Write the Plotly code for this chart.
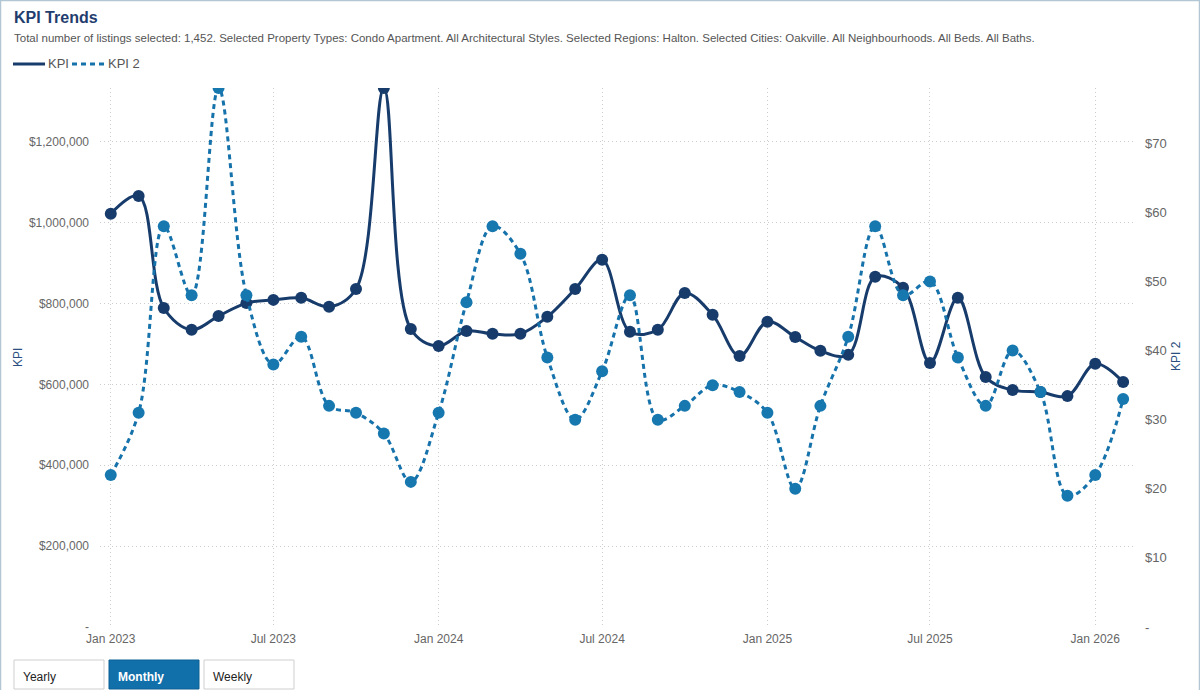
import plotly.graph_objects as go

months = [
    "2023-01-01", "2023-02-01", "2023-03-01", "2023-04-01", "2023-05-01", "2023-06-01",
    "2023-07-01", "2023-08-01", "2023-09-01", "2023-10-01", "2023-11-01", "2023-12-01",
    "2024-01-01", "2024-02-01", "2024-03-01", "2024-04-01", "2024-05-01", "2024-06-01",
    "2024-07-01", "2024-08-01", "2024-09-01", "2024-10-01", "2024-11-01", "2024-12-01",
    "2025-01-01", "2025-02-01", "2025-03-01", "2025-04-01", "2025-05-01", "2025-06-01",
    "2025-07-01", "2025-08-01", "2025-09-01", "2025-10-01", "2025-11-01", "2025-12-01",
    "2026-01-01", "2026-02-01",
]

kpi = [
    1022000, 1066000, 789000, 735000, 769000, 801000,
    809000, 814000, 792000, 836000, 1333000, 737000,
    695000, 732000, 725000, 725000, 767000, 836000,
    908000, 730000, 735000, 826000, 772000, 670000,
    755000, 717000, 683000, 673000, 866000, 839000,
    653000, 814000, 618000, 586000, 581000, 571000,
    651000, 606000,
]

kpi2 = [
    22, 31, 58, 48, 78, 48,
    38, 42, 32, 31, 28, 21,
    31, 47, 58, 54, 39, 30,
    37, 48, 30, 32, 35, 34,
    31, 20, 32, 42, 58, 48,
    50, 39, 32, 40, 34, 19,
    22, 33,
]

left_ticks = [0, 200000, 400000, 600000, 800000, 1000000, 1200000]
left_labels = ["-", "$200,000", "$400,000", "$600,000", "$800,000", "$1,000,000", "$1,200,000"]
right_ticks = [0, 10, 20, 30, 40, 50, 60, 70]
right_labels = ["-", "$10", "$20", "$30", "$40", "$50", "$60", "$70"]
x_ticks = ["2023-01-01", "2023-07-01", "2024-01-01", "2024-07-01", "2025-01-01", "2025-07-01", "2026-01-01"]
x_labels = ["Jan 2023", "Jul 2023", "Jan 2024", "Jul 2024", "Jan 2025", "Jul 2025", "Jan 2026"]

title = "KPI Trends"
subtitle = ("Total number of listings selected: 1,452. Selected Property Types: Condo Apartment. "
            "All Architectural Styles. Selected Regions: Halton. Selected Cities: Oakville. "
            "All Neighbourhoods. All Beds. All Baths.")
series_names = ["KPI", "KPI 2"]
buttons = ["Yearly", "Monthly", "Weekly"]

NAVY = "#173c6c"
BLUE = "#1672aa"
DASH = "5px,4px"
FONT = "Liberation Sans, Arial, sans-serif"

W, H = 1200, 690
ML, MR, MT, MB = 100, 67, 88, 63
PW = W - ML - MR
PH = H - MT - MB


def xp(px):
    return (px - ML) / PW


def yp(py):
    return (H - MB - py) / PH


fig = go.Figure()

fig.add_trace(go.Scatter(
    x=months, y=kpi, name=series_names[0], mode="lines+markers",
    line=dict(color=NAVY, width=3, shape="spline", smoothing=1.0),
    marker=dict(color=NAVY, size=12),
    showlegend=False, yaxis="y",
))
fig.add_trace(go.Scatter(
    x=months, y=kpi2, name=series_names[1], mode="lines+markers",
    line=dict(color=BLUE, width=3, shape="spline", smoothing=1.0, dash=DASH),
    marker=dict(color="#1778b0", size=12),
    showlegend=False, yaxis="y2",
))

grid = dict(showgrid=True, gridcolor="#cccccc", griddash="1px,3px", gridwidth=1)

fig.update_layout(
    template="none",
    width=W, height=H,
    margin=dict(l=ML, r=MR, t=MT, b=MB, pad=0, autoexpand=False),
    paper_bgcolor="white", plot_bgcolor="white",
    font=dict(family=FONT, color="#666666", size=12),
    showlegend=False,
    xaxis=dict(
        type="date", range=["2022-12-20", "2026-02-12"], automargin=False,
        tickvals=x_ticks, ticktext=x_labels, ticks="", ticklabelstandoff=3,
        zeroline=False, showline=False,
        tickfont=dict(size=12, color="#666666"),
        **grid,
    ),
    yaxis=dict(
        range=[0, 1333000], tickvals=left_ticks, ticktext=left_labels, automargin=False,
        ticks="", zeroline=False, showline=False, ticklabelstandoff=10,
        tickfont=dict(size=12, color="#666666"),
        **grid,
    ),
    yaxis2=dict(
        range=[0, 78], tickvals=right_ticks, ticktext=right_labels, automargin=False,
        overlaying="y", side="right", showgrid=False, zeroline=False, showline=False,
        ticks="", ticklabelstandoff=11,
        tickfont=dict(size=13, color="#666666"),
    ),
)

annotations = [
    dict(text="<b>" + title + "</b>", x=xp(12), y=yp(17), xref="paper", yref="paper",
         xanchor="left", yanchor="middle", showarrow=False,
         font=dict(size=16, color="#1f3d6e", family=FONT)),
    dict(text=subtitle, x=xp(12), y=yp(38), xref="paper", yref="paper",
         xanchor="left", yanchor="middle", showarrow=False,
         font=dict(size=11.5, color="#555555", family=FONT)),
    dict(text="KPI", x=xp(18), y=yp(357), xref="paper", yref="paper",
         textangle=-90, showarrow=False, xanchor="center", yanchor="middle",
         font=dict(size=12, color="#2a4f80", family=FONT)),
    dict(text="KPI 2", x=xp(1176), y=yp(356), xref="paper", yref="paper",
         textangle=-90, showarrow=False, xanchor="center", yanchor="middle",
         font=dict(size=12, color="#2a4f80", family=FONT)),
    # legend texts
    dict(text=series_names[0], x=xp(46), y=yp(64), xref="paper", yref="paper",
         xanchor="left", yanchor="middle", showarrow=False,
         font=dict(size=13, color="#555555", family=FONT)),
    dict(text=series_names[1], x=xp(106), y=yp(64), xref="paper", yref="paper",
         xanchor="left", yanchor="middle", showarrow=False,
         font=dict(size=13, color="#555555", family=FONT)),
]

shapes = [
    dict(type="rect", xref="paper", yref="paper",
         x0=xp(0.5), x1=xp(1199.5), y0=yp(700), y1=yp(0.5),
         line=dict(color="#b2c6d4", width=1.5), fillcolor="rgba(0,0,0,0)", layer="below"),
    # legend line samples
    dict(type="line", xref="paper", yref="paper",
         x0=xp(13), x1=xp(45), y0=yp(64), y1=yp(64),
         line=dict(color=NAVY, width=3)),
    dict(type="line", xref="paper", yref="paper",
         x0=xp(72), x1=xp(105), y0=yp(64), y1=yp(64),
         line=dict(color=BLUE, width=3, dash=DASH)),
]

btn_x = [(14, 104), (109, 199), (204, 294)]
for label, (bx0, bx1) in zip(buttons, btn_x):
    active = label == "Monthly"
    shapes.append(dict(
        type="rect", xref="paper", yref="paper",
        x0=xp(bx0), x1=xp(bx1), y0=yp(689), y1=yp(660),
        line=dict(color="#0d5f93" if active else "#cfcfcf", width=1),
        fillcolor="#1170aa" if active else "white",
    ))
    annotations.append(dict(
        text=("<b>" + label + "</b>") if active else label,
        x=xp(bx0 + 7), y=yp(677), xref="paper", yref="paper",
        xanchor="left", yanchor="middle", showarrow=False,
        font=dict(size=12, color="white" if active else "#222222", family=FONT),
    ))

fig.update_layout(annotations=annotations, shapes=shapes)

fig.write_html("out.html")
